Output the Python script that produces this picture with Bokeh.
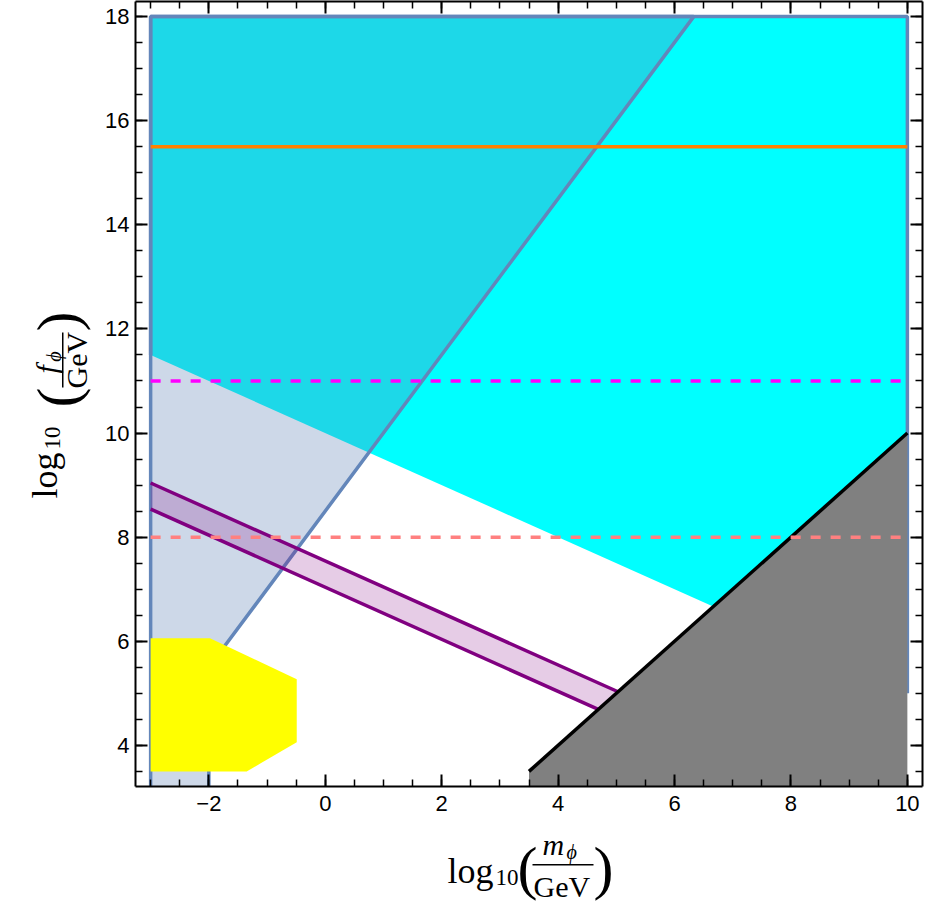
import numpy as np
from bokeh.plotting import figure
from bokeh.layouts import row, column
from bokeh.models import Range1d, LinearAxis, FixedTicker
from bokeh.core.properties import value
from bokeh.embed import file_html
from bokeh.resources import INLINE

# ---------------- data ----------------
x_range_vals = [-3.26, 10.26]
y_range_vals = [3.21, 18.29]
x_ticks = [-2, 0, 2, 4, 6, 8, 10]
x_tick_labels = ["\u22122", "0", "2", "4", "6", "8", "10"]
y_ticks = [4, 6, 8, 10, 12, 14, 16, 18]
y_tick_labels = ["4", "6", "8", "10", "12", "14", "16", "18"]

# cyan excluded region (above y = 10 - x/2)
cyan_x = [-3, -3, 10, 10]
cyan_y = [11.5, 18, 18, 5]
# light steel-blue region (left of steep line y = 1.5 x + 8.5, and x < -2)
steel_x = [-3, -3, 6.33, -2, -2]
steel_y = [3.21, 18, 18, 5.5, 3.21]
# purple band
band_up_x = [-3, 5.03]
band_up_y = [9.04, 5.03]
band_lo_x = [-3, 4.69]
band_lo_y = [8.54, 4.69]
# gray region below y = x
gray_x = [3.5, 10, 10, 3.5]
gray_y = [3.5, 10, 3.21, 3.21]
# yellow region
yellow_x = [-3, -1.98, -0.49, -0.49, -1.35, -3]
yellow_y = [6.06, 6.06, 5.27, 4.06, 3.5, 3.5]
# horizontal reference lines
hline_x = [-3, 10]
orange_y = 15.5
magenta_y = 11.0
salmon_y = 8.0

# ---------------- layout sizes (page pixels) ----------------
TOTAL_W, TOTAL_H = 925, 902
YL_W = 95                    # width of the y-title strip
MAIN_W = TOTAL_W - YL_W      # 830
MAIN_H = 822
XL_H = TOTAL_H - MAIN_H      # 80
FRAME_TOP, FRAME_BOTTOM = 1, 786

BLUE = "#6386BA"
STEEL = "#5E81B5"
LW = 3.5

p = figure(width=MAIN_W, height=MAIN_H,
           x_range=Range1d(*x_range_vals), y_range=Range1d(*y_range_vals),
           output_backend="svg", toolbar_location=None,
           min_border_left=135 - YL_W, min_border_right=3,
           min_border_top=FRAME_TOP, min_border_bottom=MAIN_H - FRAME_BOTTOM)
p.xgrid.visible = False
p.ygrid.visible = False
p.outline_line_color = None
p.background_fill_color = "white"
p.border_fill_color = "white"

# regions
p.patch(cyan_x, cyan_y, fill_color="#00FFFF", line_color=None)
p.patch(steel_x, steel_y, fill_color=STEEL, fill_alpha=0.31, line_color=None)

# region boundaries
p.line(cyan_x, cyan_y, line_color=BLUE, line_width=LW)
p.line(steel_x, steel_y, line_color=BLUE, line_width=LW)

# purple band
p.patch(band_up_x + band_lo_x[::-1], band_up_y + band_lo_y[::-1],
        fill_color="#800080", fill_alpha=0.2, line_color=None)
p.line(band_up_x, band_up_y, line_color="#800080", line_width=LW)
p.line(band_lo_x, band_lo_y, line_color="#800080", line_width=LW)

# gray region
p.patch(gray_x, gray_y, fill_color="#808080", line_color=None)
p.line(gray_x[:2], gray_y[:2], line_color="black", line_width=LW)

# yellow region
p.patch(yellow_x, yellow_y, fill_color="#FFFF00", line_color=None)

# horizontal lines
p.line(hline_x, [salmon_y] * 2, line_color="#FF8080", line_width=LW, line_dash="10 10")
p.line(hline_x, [magenta_y] * 2, line_color="#FF00FF", line_width=LW, line_dash="10 10")
p.line(hline_x, [orange_y] * 2, line_color="#FF8000", line_width=LW)

# ---------------- axes ----------------
x_minor = list(np.arange(-3.0, 10.01, 0.5))
y_minor = list(np.arange(3.5, 18.01, 0.5))


def style_axis(ax, ticks, labels, minor, show_labels, standoff):
    ax.ticker = FixedTicker(ticks=ticks, minor_ticks=minor)
    ax.axis_line_width = 2
    ax.axis_line_color = "black"
    ax.major_tick_in = 12
    ax.major_tick_out = 0
    ax.minor_tick_in = 7
    ax.minor_tick_out = 0
    ax.major_tick_line_width = 2
    ax.minor_tick_line_width = 1.5
    ax.major_tick_line_color = "black"
    ax.minor_tick_line_color = "black"
    ax.major_label_text_font = "Liberation Sans"
    ax.major_label_text_color = "black"
    if show_labels:
        ax.major_label_overrides = {t: l for t, l in zip(ticks, labels)}
        ax.major_label_text_font_size = "22px"
        ax.major_label_standoff = standoff
    else:
        ax.major_label_text_font_size = "0px"
        ax.major_label_standoff = 0
        ax.major_label_overrides = {t: "" for t in ticks}


style_axis(p.xaxis[0], x_ticks, x_tick_labels, x_minor, True, 9)
style_axis(p.yaxis[0], y_ticks, y_tick_labels, y_minor, True, 6)
top_ax = LinearAxis()
right_ax = LinearAxis()
style_axis(top_ax, x_ticks, x_tick_labels, x_minor, False, 0)
style_axis(right_ax, y_ticks, y_tick_labels, y_minor, False, 0)
p.add_layout(top_ax, "above")
p.add_layout(right_ax, "right")

# ---------------- axis titles (separate strips, pixel coordinates) ----------------
SERIF = value("Liberation Serif")
K = 0.29   # shift from anchor to drawn baseline, in em


def strip(w, h, y0, y1):
    # y0..y1: page rows covered by this strip's frame
    f = figure(width=w, height=h, x_range=Range1d(0, w), y_range=Range1d(y1, y0),
               x_axis_type=None, y_axis_type=None, title=None,
               output_backend="svg", toolbar_location=None,
               min_border=0, min_border_left=0, min_border_right=0,
               min_border_top=0, min_border_bottom=0)
    f.grid.visible = False
    f.outline_line_color = None
    f.background_fill_color = "white"
    f.border_fill_color = "white"
    return f


def txt(f, x, y, s, size, italic=False):
    # horizontal piece: x = left edge, y = baseline (page coords)
    f.text(x=[x], y=[y - K * size], text=[s], text_font=SERIF,
           text_font_size=value(f"{size}px"),
           text_font_style="italic" if italic else "normal", text_color="black",
           text_align="left", text_baseline="alphabetic", angle=0.0)


def rtxt(f, xb, ystart, s, size, width_em, italic=False):
    # piece rotated to read upward: xb = baseline column, ystart = where it starts
    f.text(x=[xb - K * size], y=[ystart - 0.5 * width_em * size], text=[s],
           text_font=SERIF, text_font_size=value(f"{size}px"),
           text_font_style="italic" if italic else "normal", text_color="black",
           text_align="center", text_baseline="alphabetic", angle=np.pi / 2)


# x title: log10 ( m_phi / GeV )   (strip spans page rows 822..902)
xl = strip(TOTAL_W, XL_H, MAIN_H, TOTAL_H)
txt(xl, 447, 881, "log", 36)
txt(xl, 495, 884, "10", 23)
txt(xl, 517, 885, "(", 60)
txt(xl, 542, 853, "m", 30, italic=True)
txt(xl, 566, 857, "\u03d5", 20, italic=True)
xl.quad(left=[532], right=[593], top=[863.5], bottom=[865],
        fill_color="black", line_color=None)
txt(xl, 533, 895, "GeV", 30)
txt(xl, 593, 885, ")", 60)

# y title (rotated, reads upward); its frame is aligned with the main frame rows
yl = strip(YL_W, MAIN_H, FRAME_TOP, FRAME_BOTTOM)
rtxt(yl, 55, 498, "log", 36, 1.278)
rtxt(yl, 59, 449, "10", 23, 1.0)
rtxt(yl, 75, 407, "(", 60, 0.333)
rtxt(yl, 55, 373, "f", 30, 0.28, italic=True)
rtxt(yl, 59, 362, "\u03d5", 20, 0.6, italic=True)
yl.quad(left=[61.5], right=[63], top=[332], bottom=[387], fill_color="black", line_color=None)
rtxt(yl, 85, 388, "GeV", 30, 1.888)
rtxt(yl, 75, 331, ")", 60, 0.333)

layout = column(row(yl, p, spacing=0), xl, spacing=0)
open("out.html", "w").write(file_html(layout, INLINE))
